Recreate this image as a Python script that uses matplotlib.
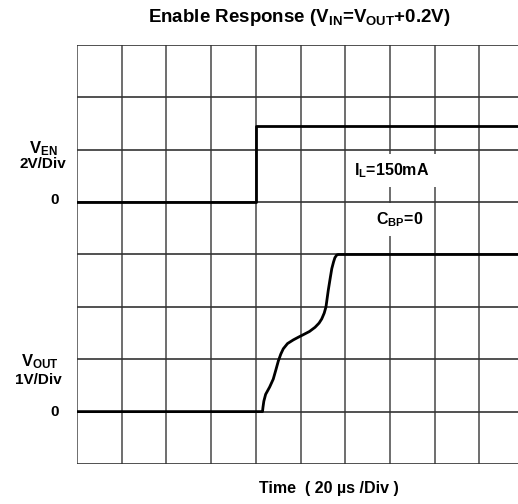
import matplotlib.pyplot as plt

plt.rcParams['font.family'] = ['Liberation Sans', 'DejaVu Sans']
plt.rcParams['mathtext.fontset'] = 'custom'
plt.rcParams['mathtext.rm'] = 'Liberation Sans:bold'
plt.rcParams['mathtext.bf'] = 'Liberation Sans:bold'
plt.rcParams['mathtext.it'] = 'Liberation Sans:bold'

# 時間 (us) 與電壓 (V)
en_t = [0, 80, 80, 200]
en_v = [0, 0, 2.9, 2.9]

vout_t = [0, 83.0, 83.2, 83.6, 84.4, 86.2, 87.8, 89.0, 90.1, 91.2, 92.3, 94.2,
          96.8, 99.0, 101.3, 104.0, 106.5, 108.3, 109.5, 110.6, 111.4, 112.4,
          113.3, 114.0, 114.8, 115.4, 116.2, 116.9, 200]
vout_v = [0, 0, 0.08, 0.2, 0.33, 0.47, 0.62, 0.80, 0.97, 1.10, 1.20, 1.30,
          1.37, 1.42, 1.47, 1.53, 1.61, 1.69, 1.77, 1.88, 2.00, 2.31,
          2.55, 2.73, 2.86, 2.94, 2.99, 3.0, 3.0]

en_zero = 5    # 格數
vout_zero = 1
en_scale = 2   # V/Div
vout_scale = 1

fig = plt.figure(figsize=(5.18, 5.04), dpi=100)
ax = fig.add_axes([77/518, 40/504, 1 - 77/518, 419/504])

ax.set_xlim(0, 441/44.7*20)
ax.set_ylim(0, 8)
for x in range(0, 200, 20):
    ax.axvline(x, color='#555555', lw=1.2, zorder=1)
for y in range(0, 9):
    ax.axhline(y, color='#333333', lw=1.2, zorder=1)

ax.plot(en_t, [en_zero + v/en_scale for v in en_v], color='black', lw=2,
        zorder=3, solid_joinstyle='round')
ax.plot(vout_t, [vout_zero + v/vout_scale for v in vout_v], color='black', lw=2,
        zorder=3, solid_joinstyle='round')

for s in ax.spines.values():
    s.set_visible(False)
ax.set_xticks([])
ax.set_yticks([])

fig.text(299/518, 1 - 17/504, r'Enable Response ($\mathrm{V_{IN}}$=$\mathrm{V_{OUT}}$+0.2V)',
         ha='center', va='center', fontsize=13.5, fontweight='bold')
fig.text(329/518, 1 - 489/504, 'Time  ( 20 µs /Div )', ha='center', va='center',
         fontsize=11.5, fontweight='bold')

fig.text(43/518, 1 - 149/504, r'$\mathrm{V_{EN}}$', ha='center', va='center', fontsize=12)
fig.text(43/518, 1 - 164/504, '2V/Div', ha='center', va='center', fontsize=11, fontweight='bold')
fig.text(55/518, 1 - 200/504, '0', ha='center', va='center', fontsize=11, fontweight='bold')

fig.text(40/518, 1 - 362/504, r'$\mathrm{V_{OUT}}$', ha='center', va='center', fontsize=12)
fig.text(38/518, 1 - 380/504, '1V/Div', ha='center', va='center', fontsize=11, fontweight='bold')
fig.text(55/518, 1 - 412/504, '0', ha='center', va='center', fontsize=11, fontweight='bold')

ax.text(141, 5.6, r'$\mathrm{I_L}$=150mA', ha='center', va='center', fontsize=11.5,
        fontweight='bold', zorder=2, bbox=dict(facecolor='white', edgecolor='none', pad=5))
ax.text(144.5, 4.67, r'$\mathrm{C_{BP}}$=0', ha='center', va='center', fontsize=11.5,
        fontweight='bold', zorder=2, bbox=dict(facecolor='white', edgecolor='none', pad=5))

plt.savefig('out.png', dpi=100)
